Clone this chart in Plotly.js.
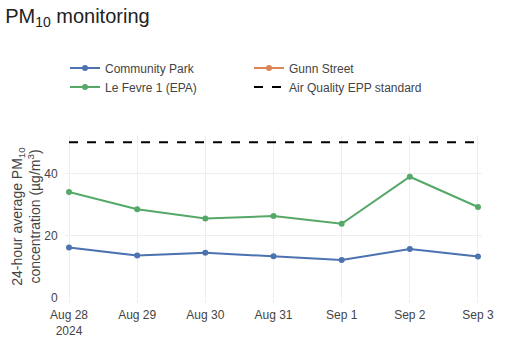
<!DOCTYPE html>
<html>
<head>
<meta charset="utf-8">
<script src="https://cdn.plot.ly/plotly-3.0.1.min.js"></script>
<style>html,body{margin:0;padding:0;background:#fff;}#chart{width:513px;height:361px;}</style>
</head>
<body>
<div id="chart"></div>
<script>
const dates = ['2024-08-28','2024-08-29','2024-08-30','2024-08-31','2024-09-01','2024-09-02','2024-09-03'];
const communityPark = [16.2, 13.6, 14.5, 13.4, 12.2, 15.7, 13.3];
const gunnStreet = [null, null, null, null, null, null, null];
const leFevre = [34.0, 28.5, 25.5, 26.3, 23.8, 38.9, 29.2];
const eppStandard = [50, 50, 50, 50, 50, 50, 50];

const traces = [
  {x: dates, y: communityPark, name: 'Community Park', mode: 'lines+markers', line: {color: '#4c72b0', width: 2}, marker: {size: 6}},
  {x: dates, y: gunnStreet, name: 'Gunn Street', mode: 'lines+markers', line: {color: '#dd8452', width: 2}, marker: {size: 6}},
  {x: dates, y: leFevre, name: 'Le Fevre 1 (EPA)', mode: 'lines+markers', line: {color: '#55a868', width: 2}, marker: {size: 6}},
  {x: dates, y: eppStandard, name: 'Air Quality EPP standard', mode: 'lines', line: {color: '#000000', width: 2, dash: 'dash'}}
];

const layout = {
  width: 513, height: 361,
  margin: {l: 65, r: 31, t: 135, b: 63},
  font: {family: 'Liberation Sans, Arial, sans-serif', size: 12, color: '#444'},
  paper_bgcolor: '#fff', plot_bgcolor: '#fff',
  title: {text: 'PM<sub>10</sub> monitoring', x: 0.01, xanchor: 'left', y: 0.975, yanchor: 'top', font: {size: 20, color: '#222'}},
  legend: {orientation: 'h', x: 0.0, xanchor: 'left', y: 1.5, yanchor: 'top', entrywidth: 139, font: {size: 12, color: '#444'}},
  xaxis: {type: 'date', range: ['2024-08-27 22:35', '2024-09-03 01:25'], dtick: 86400000, tick0: '2024-08-28',
          showgrid: true, gridcolor: '#eee', zeroline: false, tickfont: {size: 12},
          ticks: 'outside', ticklen: 4, tickcolor: '#eee', ticklabelstandoff: 2},
  yaxis: {range: [0, 52.3], dtick: 20, showgrid: true, gridcolor: '#eee', zeroline: false,
          ticks: 'outside', ticklen: 4, tickcolor: '#fff',
          title: {text: '24-hour average PM<sub>10</sub><br>concentration (µg/m<sup>3</sup>)', font: {size: 14}, standoff: 0}}
};

Plotly.newPlot('chart', traces, layout, {displayModeBar: false});
</script>
</body>
</html>
